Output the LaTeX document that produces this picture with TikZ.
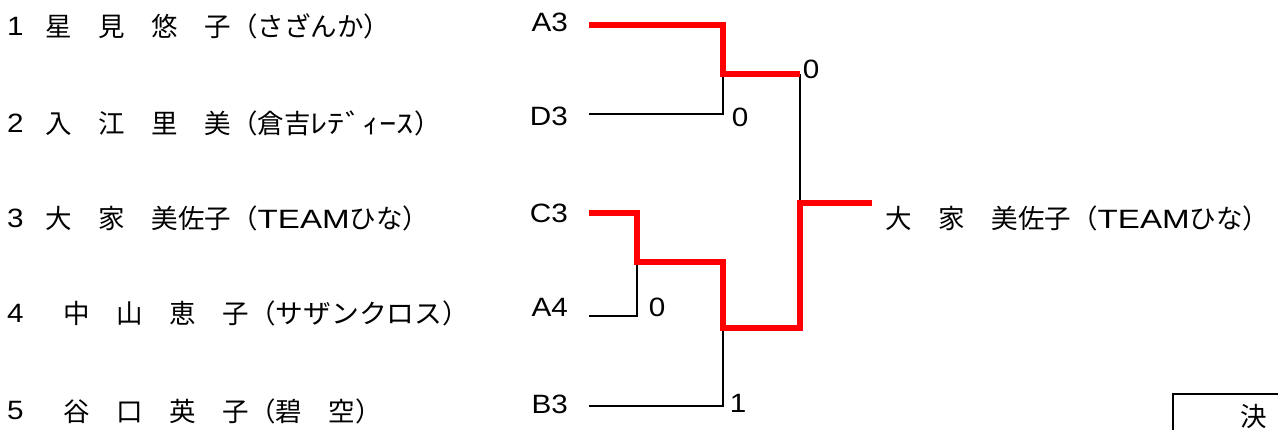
\documentclass[tikz,border=0pt]{standalone}
\usepackage{fontspec}
\setmainfont{Liberation Sans}[FakeStretch=1.12]
\newfontfamily\jpfont{Noto Sans CJK JP}
\newfontfamily\teamfont{Liberation Sans}[FakeStretch=1.25]
\newcommand{\bigsize}{\fontsize{26.5}{30}\selectfont}

\tikzset{
  entry/.style={anchor=west, inner sep=0pt, font=\jpfont\bigsize},
  seed/.style={anchor=west, inner sep=0pt},
  team/.style={anchor=east, inner sep=0pt},
  score/.style={inner sep=0pt},
  lose/.style={draw=black, line width=1.3pt},
  win/.style={draw=red, line width=6pt}
}

\begin{document}
\begin{tikzpicture}[x=1pt,y=-1pt,font=\bigsize]
\clip (0,0) rectangle (1278,430);

% Entry list
\node[seed] (n1) at (7,26) {1};
\node[entry] (p1) at (45.5,26) {星　見　悠　子（さざんか）};
\node[seed] (n2) at (7,123) {2};
\node[entry] (p2) at (45.5,123) {入　江　里　美（倉吉{\addfontfeature{FakeStretch=1.3}ﾚﾃﾞｨｰｽ}）};
\node[seed] (n3) at (7,218) {3};
\node[entry] (p3) at (45.5,218) {大　家　美佐子（{\teamfont TEAM}ひな）};
\node[seed] (n4) at (7,313) {4};
\node[entry] (p4) at (63.5,313) {中　山　恵　子（{\addfontfeature{FakeStretch=1.05}サザンクロス}）};
\node[seed] (n5) at (7,411) {5};
\node[entry] (p5) at (63.5,411) {谷　口　英　子（碧　空）};

% Bracket labels
\node[team] (A3) at (568,22.5) {A3};
\node[team] (D3) at (568,116) {D3};
\node[team] (C3) at (568,213) {C3};
\node[team] (A4) at (568,307) {A4};
\node[team] (B3) at (568,404) {B3};

% Line starts
\coordinate (a3in) at (589,25);
\coordinate (d3in) at (589,114);
\coordinate (c3in) at (589,213);
\coordinate (a4in) at (589,316);
\coordinate (b3in) at (589,406);

% Match joints
\coordinate (m1) at (723,74);
\coordinate (m2) at (637,262);
\coordinate (m3) at (723,328);
\coordinate (m4) at (800,203);
\coordinate (wend) at (872,203);

% Scores
\node[score] (s1) at (740,117) {0};
\node[score] (s2) at (811,69) {0};
\node[score] (s3) at (657,307) {0};
\node[score] (s4) at (738,403) {1};

% Winner
\node[entry] (champ) at (885.5,218) {大　家　美佐子（{\teamfont TEAM}ひな）};

% Final box
\node[draw,
    line width=1.7pt,
    anchor=north west,
    minimum width=162pt,
    minimum height=46pt,
    font=\jpfont\bigsize] (final) at (1172,393) {決};

% Lines
\draw[lose] (d3in) -| (m1);
\draw[lose] (a4in) -| (m2);
\draw[lose] (b3in) -| (m3);
\draw[lose] (m1 -| m4) -- (m4);

\draw[win] (a3in) -| (m1) -- (m1 -| m4);
\draw[win] (c3in) -| (m2) -| (m3) -| (m4) -- (wend);

\end{tikzpicture}
\end{document}
